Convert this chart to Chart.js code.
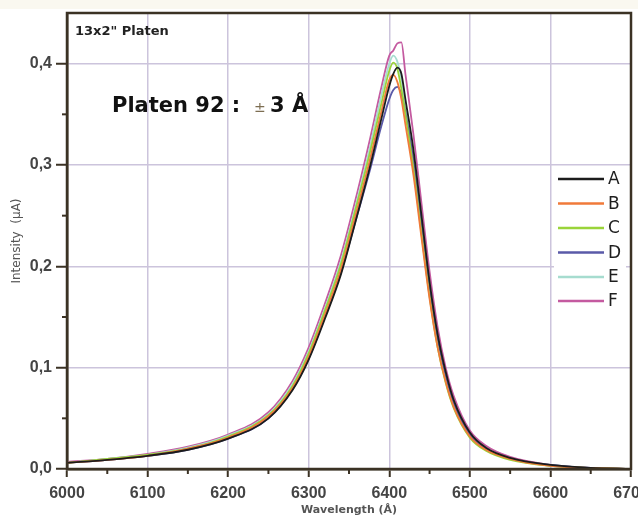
<!DOCTYPE html>
<html>
<head>
<meta charset="utf-8">
<script src="https://cdn.jsdelivr.net/npm/chart.js@4.4.1/dist/chart.umd.min.js"></script>
<style>
  html, body { margin: 0; padding: 0; background: #ffffff; }
  #wrap { width: 638px; height: 518px; }
</style>
</head>
<body>
<div id="wrap"><canvas id="c" width="638" height="518"></canvas></div>
<script>
// ---- data ----
const wavelengths = [6000, 6050, 6100, 6150, 6200, 6250, 6280, 6300, 6320, 6340,
                     6360, 6375, 6390, 6400, 6405, 6410, 6415, 6420, 6430, 6440,
                     6450, 6460, 6470, 6480, 6500, 6520, 6550, 6600, 6650, 6700];
const seriesNames = ["A", "B", "C", "D", "E", "F"];
const seriesA = [0.006, 0.009, 0.013, 0.019, 0.030, 0.050, 0.078, 0.108, 0.148, 0.192,
                 0.250, 0.295, 0.345, 0.378, 0.390, 0.396, 0.390, 0.365, 0.315, 0.250,
                 0.185, 0.133, 0.096, 0.068, 0.036, 0.021, 0.011, 0.004, 0.001, 0.000];
const seriesB = [0.006, 0.009, 0.013, 0.020, 0.031, 0.052, 0.080, 0.111, 0.152, 0.197,
                 0.256, 0.302, 0.352, 0.384, 0.389, 0.382, 0.365, 0.340, 0.290, 0.228,
                 0.168, 0.120, 0.086, 0.061, 0.032, 0.019, 0.010, 0.003, 0.001, 0.000];
const seriesC = [0.006, 0.010, 0.014, 0.020, 0.032, 0.053, 0.082, 0.114, 0.156, 0.202,
                 0.262, 0.309, 0.360, 0.393, 0.401, 0.395, 0.375, 0.350, 0.296, 0.232,
                 0.170, 0.120, 0.085, 0.060, 0.031, 0.018, 0.009, 0.003, 0.001, 0.000];
const seriesD = [0.006, 0.009, 0.013, 0.019, 0.030, 0.050, 0.079, 0.109, 0.150, 0.194,
                 0.250, 0.292, 0.338, 0.365, 0.374, 0.377, 0.370, 0.352, 0.305, 0.242,
                 0.178, 0.128, 0.092, 0.065, 0.034, 0.020, 0.010, 0.004, 0.001, 0.000];
const seriesE = [0.006, 0.010, 0.014, 0.021, 0.033, 0.054, 0.084, 0.116, 0.158, 0.205,
                 0.265, 0.314, 0.368, 0.400, 0.408, 0.402, 0.385, 0.358, 0.305, 0.240,
                 0.178, 0.126, 0.090, 0.064, 0.033, 0.020, 0.010, 0.004, 0.001, 0.000];
const seriesF = [0.007, 0.010, 0.015, 0.022, 0.034, 0.056, 0.087, 0.120, 0.163, 0.211,
                 0.272, 0.322, 0.376, 0.408, 0.413, 0.420, 0.421, 0.390, 0.330, 0.262,
                 0.195, 0.140, 0.100, 0.072, 0.038, 0.023, 0.012, 0.004, 0.001, 0.000];
const xTickValues = [6000, 6100, 6200, 6300, 6400, 6500, 6600, 6700];
const yTickValues = [0.0, 0.1, 0.2, 0.3, 0.4];
const xMinorTicks = [6050, 6150, 6250, 6350, 6450, 6550, 6650];
const yMinorTicks = [0.05, 0.15, 0.25, 0.35];
const chartLabel = "13x2\" Platen";
const annotationMain = "Platen 92 :";
const annotationPm = "\u00B1";
const annotationVal = "3 \u00C5";
const xTitle = "Wavelength (\u00C5)";
const yTitle = "Intensity  (\u00B5A)";

// ---- styles ----
const colors = ["#1c1c1c", "#f07a3a", "#9ad43a", "#5a5aa8", "#a6dccf", "#c45aa0"];
const frameColor = "#3b3224";
const gridColor = "#ccc4dc";
const textColor = "#444444";

const allSeries = [seriesA, seriesB, seriesC, seriesD, seriesE, seriesF];
const datasets = allSeries.map((vals, i) => ({
  label: seriesNames[i],
  data: wavelengths.map((w, j) => ({ x: w, y: vals[j] })),
  borderColor: colors[i],
  backgroundColor: colors[i],
  borderWidth: 1.8,
  pointRadius: 0,
  showLine: true,
  tension: 0.4,
  cubicInterpolationMode: 'monotone',
  fill: false
}));

const decorPlugin = {
  id: 'decor',
  beforeDraw(chart) {
    const ctx = chart.ctx;
    ctx.save();
    ctx.fillStyle = '#ffffff';
    ctx.fillRect(0, 0, chart.width, chart.height);
    ctx.fillStyle = '#faf8f0';
    ctx.fillRect(0, 0, chart.width, 9);
    ctx.restore();
  },
  afterDraw(chart) {
    const ctx = chart.ctx;
    const a = chart.chartArea;
    const xs = chart.scales.x, ys = chart.scales.y;
    ctx.save();
    // minor ticks
    ctx.strokeStyle = frameColor;
    ctx.lineWidth = 2;
    xMinorTicks.forEach(v => {
      const px = xs.getPixelForValue(v);
      ctx.beginPath(); ctx.moveTo(px, a.bottom); ctx.lineTo(px, a.bottom + 5); ctx.stroke();
    });
    yMinorTicks.forEach(v => {
      const py = ys.getPixelForValue(v);
      ctx.beginPath(); ctx.moveTo(a.left, py); ctx.lineTo(a.left - 5, py); ctx.stroke();
    });
    // frame
    ctx.lineWidth = 2.5;
    ctx.strokeRect(a.left, a.top, a.right - a.left, a.bottom - a.top);

    // small label
    ctx.fillStyle = '#222222';
    ctx.textBaseline = 'alphabetic';
    ctx.textAlign = 'left';
    ctx.font = 'bold 13px "DejaVu Sans"';
    ctx.fillText(chartLabel, 75, 35);
    // annotation
    ctx.font = 'bold 21px "DejaVu Sans"';
    ctx.fillStyle = '#111111';
    ctx.fillText(annotationMain, 112, 112);
    ctx.font = '14px "DejaVu Sans"';
    ctx.fillStyle = '#7d6e52';
    ctx.fillText(annotationPm, 254, 112);
    ctx.font = 'bold 21px "DejaVu Sans"';
    ctx.fillStyle = '#111111';
    ctx.fillText(annotationVal, 270, 112);

    // legend
    ctx.fillStyle = '#ffffff';
    ctx.fillRect(554, 166, 72, 146);
    const rowY = [179, 203.5, 228, 252.5, 277, 301];
    chart.data.datasets.forEach((ds, i) => {
      ctx.strokeStyle = ds.borderColor;
      ctx.lineWidth = 2.6;
      ctx.beginPath(); ctx.moveTo(558, rowY[i]); ctx.lineTo(604, rowY[i]); ctx.stroke();
      ctx.fillStyle = '#1e1e1e';
      ctx.font = '17px "DejaVu Sans"';
      ctx.textBaseline = 'middle';
      ctx.fillText(ds.label, 608, rowY[i] + 1);
    });
    ctx.restore();
  }
};

new Chart(document.getElementById('c'), {
  type: 'scatter',
  data: { datasets },
  plugins: [decorPlugin],
  options: {
    responsive: false,
    animation: false,
    devicePixelRatio: 1,
    layout: { padding: { top: 13, right: 7, left: 0, bottom: 0 } },
    plugins: { legend: { display: false }, tooltip: { enabled: false }, title: { display: false } },
    scales: {
      x: {
        type: 'linear',
        min: 6000, max: 6700,
        afterBuildTicks(scale) { scale.ticks = xTickValues.map(v => ({ value: v })); },
        afterFit(scale) { scale.height = 49; scale.paddingLeft = 0; scale.paddingRight = 0; },
        ticks: {
          color: textColor,
          font: { family: '"Liberation Sans"', size: 16, weight: 'bold' },
          padding: 7,
          maxRotation: 0,
          callback: v => String(v)
        },
        grid: { color: gridColor, lineWidth: 1.5, tickColor: frameColor, tickLength: 8, tickWidth: 2 },
        border: { display: true, color: frameColor, width: 2.5 },
        title: { display: true, text: xTitle, color: '#555555', font: { family: '"DejaVu Sans"', size: 11, weight: 'bold' }, padding: { top: 0, bottom: 1 } }
      },
      y: {
        type: 'linear',
        min: 0, max: 0.45,
        afterBuildTicks(scale) { scale.ticks = yTickValues.map(v => ({ value: v })); },
        afterFit(scale) { scale.width = 67; scale.paddingTop = 0; scale.paddingBottom = 0; },
        ticks: {
          color: textColor,
          font: { family: '"Liberation Sans"', size: 16, weight: 'bold' },
          padding: 4,
          callback: v => Number(v).toFixed(1).replace('.', ',')
        },
        grid: { color: gridColor, lineWidth: 1.5, tickColor: frameColor, tickLength: 11, tickWidth: 2 },
        border: { display: true, color: frameColor, width: 2.5 },
        title: { display: true, text: yTitle, color: '#555555', font: { family: '"DejaVu Sans"', size: 12 }, padding: { top: 10, bottom: 0 } }
      }
    }
  }
});
</script>
</body>
</html>
